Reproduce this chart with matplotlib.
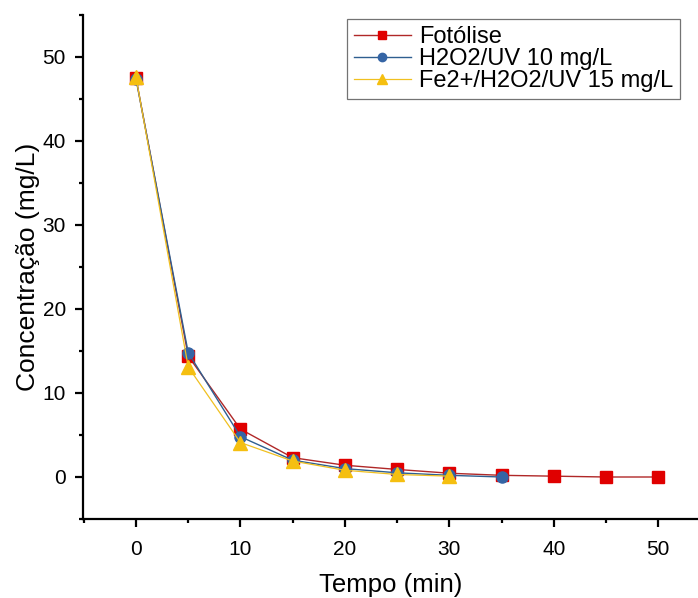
import matplotlib
matplotlib.use("Agg")
import matplotlib.pyplot as plt
from matplotlib.ticker import MultipleLocator

plt.rcParams["font.family"] = ["Liberation Sans", "DejaVu Sans"]

# dados
tempo_fotolise = [0, 5, 10, 15, 20, 25, 30, 35, 40, 45, 50]
conc_fotolise = [47.5, 14.4, 5.7, 2.3, 1.4, 0.9, 0.45, 0.2, 0.1, 0.0, 0.0]

tempo_h2o2 = [0, 5, 10, 15, 20, 25, 30, 35]
conc_h2o2 = [47.4, 14.8, 4.8, 2.0, 1.0, 0.5, 0.2, 0.0]

tempo_fenton = [0, 5, 10, 15, 20, 25, 30]
conc_fenton = [47.6, 13.1, 4.1, 1.9, 0.8, 0.3, 0.1]

labels = ["Fotólise", "H2O2/UV 10 mg/L", "Fe2+/H2O2/UV 15 mg/L"]

fig = plt.figure(figsize=(6.98, 5.98), dpi=100)
ax = fig.add_axes([82.5 / 698, 79 / 598, (698 - 82.5) / 698, (519 - 15) / 598])

ax.plot(tempo_fotolise, conc_fotolise, color="#b02828", lw=1.0,
        marker="s", ms=8, mfc="#e00000", mec="#e00000", label=labels[0], zorder=3)
ax.plot(tempo_h2o2, conc_h2o2, color="#2f5f90", lw=1.0,
        marker="o", ms=8, mfc="#3565a5", mec="#3565a5", label=labels[1], zorder=4)
ax.plot(tempo_fenton, conc_fenton, color="#f0c020", lw=0.9,
        marker="^", ms=10, mfc="#f5bf10", mec="#f5bf10", label=labels[2], zorder=5)

ax.set_xlim(-5.12, 53.8)
ax.set_ylim(-5, 55)
ax.xaxis.set_major_locator(MultipleLocator(10))
ax.xaxis.set_minor_locator(MultipleLocator(5))
ax.yaxis.set_major_locator(MultipleLocator(10))
ax.yaxis.set_minor_locator(MultipleLocator(5))

for s in ["top", "right"]:
    ax.spines[s].set_visible(False)
for s in ["left", "bottom"]:
    ax.spines[s].set_linewidth(1.6)

ax.tick_params(which="major", direction="out", length=6, width=1.6, labelsize=15)
ax.tick_params(which="minor", direction="out", length=3, width=1.6)
ax.tick_params(axis="x", which="major", pad=9)
ax.tick_params(axis="y", which="major", pad=6)

ax.set_xlabel("Tempo (min)", fontsize=18.5, labelpad=10)
ax.set_ylabel("Concentração (mg/L)", fontsize=19, labelpad=2)

leg = ax.legend(loc="upper left", bbox_to_anchor=(0.4297, 0.992), fontsize=17,
                frameon=True, fancybox=False, edgecolor="#505050",
                borderpad=0.3, labelspacing=0.0, handlelength=2.4,
                handletextpad=0.35, borderaxespad=0, markerscale=0.75)
leg.get_frame().set_linewidth(0.9)

fig.savefig("out.png", dpi=100)
